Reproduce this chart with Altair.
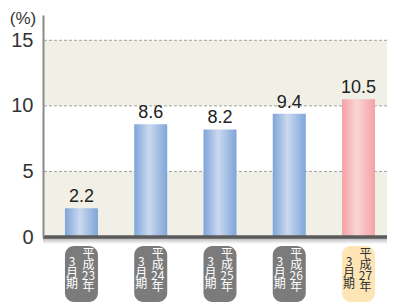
import altair as alt
import pandas as pd

categories = ["平成23年3月期", "平成24年3月期", "平成25年3月期", "平成26年3月期", "平成27年3月期"]
values = [2.2, 8.6, 8.2, 9.4, 10.5]
era_text = ["平\n成\n23\n年", "平\n成\n24\n年", "平\n成\n25\n年", "平\n成\n26\n年", "平\n成\n27\n年"]
period_text = ["3\n月\n期", "3\n月\n期", "3\n月\n期", "3\n月\n期", "3\n月\n期"]
kind = ["past", "past", "past", "past", "current"]
y_ticks = [0, 5, 10, 15]
grid_values = [5, 10, 15]
band_low = [0, 10]
band_high = [5, 15]

df = pd.DataFrame({
    "cat": categories, "value": values, "era": era_text,
    "period": period_text, "kind": kind,
    "label": [f"{v:.1f}" for v in values],
})
bands_df = pd.DataFrame({"lo": band_low, "hi": band_high})
grid_df = pd.DataFrame({"g": grid_values})

W, H = 344, 222
xenc = alt.X("cat:N", sort=categories, axis=None,
             scale=alt.Scale(paddingInner=0.5235, paddingOuter=0.245, align=0.647))
yscale = alt.Scale(domain=[0, 16.93], nice=False, zero=True)

def grad(edge, mid):
    return alt.Gradient(
        gradient="linear",
        stops=[alt.GradientStop(color=edge, offset=0),
               alt.GradientStop(color=mid, offset=0.45),
               alt.GradientStop(color=edge, offset=1)],
        x1=0, x2=1, y1=0, y2=0)

bands = alt.Chart(bands_df).mark_rect(color="#f1f0e7").encode(
    y=alt.Y("lo:Q", scale=yscale,
            axis=alt.Axis(values=y_ticks, title="(%)", titleAngle=0, titleAlign="center",
                          titleBaseline="middle", titleX=-20.5, titleY=3.5,
                          titleFontSize=17, titleFontWeight="normal", titleColor="#333",
                          titleFont="Liberation Sans",
                          labelFontSize=20, labelColor="#333", labelFont="Liberation Sans",
                          labelPadding=10, ticks=False, grid=False,
                          domainColor="#8a8a8a", domainWidth=2, zindex=1)),
    y2="hi:Q",
)

grid = alt.Chart(grid_df).mark_rule(color="#a0a0a0", strokeDash=[3, 2], strokeWidth=1).encode(
    y=alt.Y("g:Q", scale=yscale)
)

shadow = alt.Chart(df).mark_rect(
    y2Offset=7,
    fill=alt.Gradient(gradient="linear",
                      stops=[alt.GradientStop(color="#a8a8a8", offset=0),
                             alt.GradientStop(color="#ffffff", offset=1)],
                      x1=0, x2=0, y1=0, y2=1)
).encode(y=alt.datum(0, scale=yscale), y2=alt.datum(0))

bars_past = alt.Chart(df).transform_filter(alt.datum.kind == "past").mark_bar(
    fill=grad("#7ea5d8", "#cbd9ef")
).encode(x=xenc, y=alt.Y("value:Q", scale=yscale))

bars_cur = alt.Chart(df).transform_filter(alt.datum.kind == "current").mark_bar(
    fill=grad("#f4a1a6", "#fbd6d5")
).encode(x=xenc, y=alt.Y("value:Q", scale=yscale))

base_line = alt.Chart(df).mark_rule(color="#5c5c5c", strokeWidth=2.5).encode(
    y=alt.datum(0, scale=yscale)
)

labels = alt.Chart(df).mark_text(
    fontSize=18, color="#222", baseline="alphabetic", dy=-6, font="Liberation Sans"
).encode(x=xenc, y=alt.Y("value:Q", scale=yscale), text="label:N")

box_color = alt.Color("kind:N", scale=alt.Scale(domain=["past", "current"], range=["#7b7b7b", "#fde5b6"]), legend=None)
text_color = alt.Color("kind:N", scale=alt.Scale(domain=["past", "current"], range=["#ffffff", "#333333"]), legend=None)

boxes = alt.Chart(df).mark_bar(cornerRadius=9).encode(
    x=xenc, y=alt.value(231), y2=alt.value(287), color=box_color
)

era = alt.Chart(df).mark_text(
    lineBreak="\n", baseline="top", dx=7, fontSize=12, lineHeight=11,
    font="Noto Sans CJK JP"
).encode(x=xenc, y=alt.value(233.5), text="era:N", fill=text_color)

period = alt.Chart(df).mark_text(
    lineBreak="\n", baseline="top", dx=-9.5, fontSize=12, lineHeight=11,
    font="Noto Sans CJK JP"
).encode(x=xenc, y=alt.value(242), text="period:N", fill=text_color)

chart = alt.layer(bands, grid, shadow, bars_past, bars_cur, base_line, labels, boxes, era, period).properties(
    width=W, height=H,
    autosize=alt.AutoSizeParams(type="none"),
    padding={"left": 35, "top": 7, "right": 0, "bottom": 71},
).resolve_scale(color="independent").configure_view(stroke=None)

chart.save("out.html", embed_options={"renderer": "svg", "actions": False})
